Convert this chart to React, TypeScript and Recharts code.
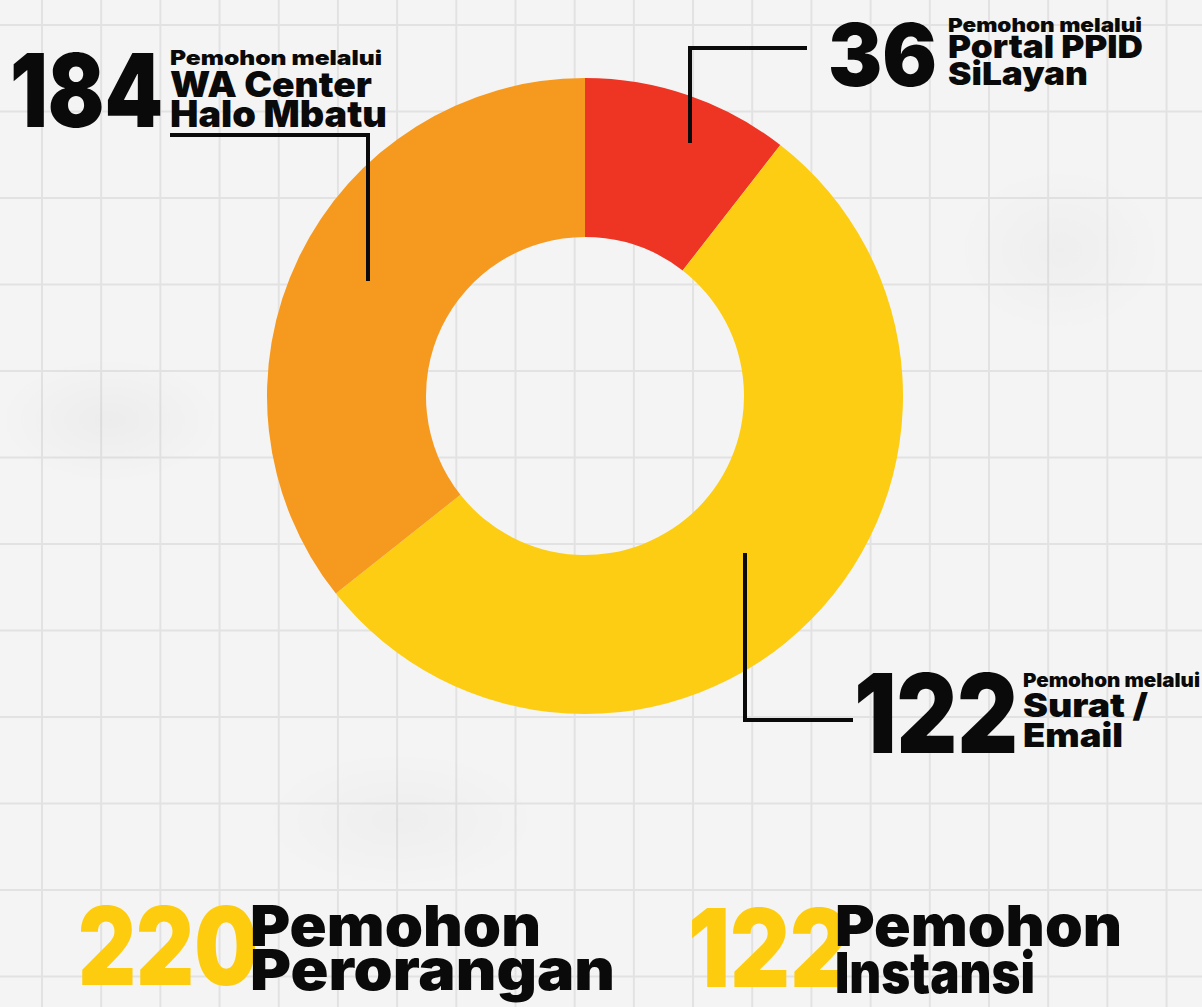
import { PieChart, Pie, Cell } from 'recharts'

// slices in drawing order, clockwise from 12 o'clock
const channels = ['Portal PPID SiLayan', 'Surat / Email', 'WA Center Halo Mbatu']
const sliceValues = [36, 184, 122]
const sliceColors = ['#EE3524', '#FCCD13', '#F6991F']

// callout numbers and captions, as printed on the poster
const calloutNumbers = ['36', '122', '184']
const calloutCaptions = [
  ['Pemohon melalui', 'Portal PPID', 'SiLayan'],
  ['Pemohon melalui', 'Surat /', 'Email'],
  ['Pemohon melalui', 'WA Center', 'Halo Mbatu'],
]

const totalNumbers = ['220', '122']
const totalCaptions = [
  ['Pemohon', 'Perorangan'],
  ['Pemohon', 'Instansi'],
]

const W = 1202
const H = 1007
const FONT = 'Inter, "Open Sans", sans-serif'
const YELLOW = '#FDCC0F'

type Callout = {
  num: { x: number; y: number; size: number; w: number }
  lines: { x: number; y: number; size: number; w: number }[]
  path: string
}

// layout of each callout block (same order as calloutNumbers)
const calloutLayout: Callout[] = [
  {
    num: { x: 828, y: 86, size: 86, w: 109 },
    lines: [
      { x: 948, y: 32, size: 19, w: 194 },
      { x: 948, y: 58, size: 32, w: 195 },
      { x: 948, y: 85, size: 32, w: 140 },
    ],
    path: 'M807,48 L690,48 L690,143',
  },
  {
    num: { x: 854, y: 753, size: 110, w: 164 },
    lines: [
      { x: 1023, y: 687, size: 19, w: 177 },
      { x: 1023, y: 717, size: 33, w: 125 },
      { x: 1023, y: 747, size: 33, w: 100 },
    ],
    path: 'M745,553 L745,720 L853,720',
  },
  {
    num: { x: 10, y: 127, size: 102, w: 153 },
    lines: [
      { x: 170, y: 65, size: 20, w: 212 },
      { x: 170, y: 97, size: 35, w: 202 },
      { x: 170, y: 127, size: 37, w: 217 },
    ],
    path: 'M170,135 L368,135 L368,281',
  },
]

const totalLayout = [
  {
    num: { x: 78, y: 985, size: 108, w: 180 },
    lines: [
      { x: 250, y: 946, size: 57, w: 291 },
      { x: 250, y: 990, size: 57, w: 365 },
    ],
  },
  {
    num: { x: 688, y: 987, size: 108, w: 162 },
    lines: [
      { x: 835, y: 946, size: 57, w: 287 },
      { x: 835, y: 993, size: 57, w: 200 },
    ],
  },
]

function T({
  x,
  y,
  size,
  w,
  fill = '#0a0a0a',
  children,
}: {
  x: number
  y: number
  size: number
  w: number
  fill?: string
  children: string
}) {
  return (
    <text
      x={x}
      y={y}
      fontSize={size}
      fontFamily={FONT}
      fontWeight={900}
      fill={fill}
      textLength={w}
      lengthAdjust="spacingAndGlyphs"
    >
      {children}
    </text>
  )
}

export default function App() {
  const data = channels.map((name, i) => ({ name, value: sliceValues[i] }))

  return (
    <div
      style={{
        position: 'absolute',
        left: 0,
        top: 0,
        width: W,
        height: H,
        overflow: 'hidden',
        backgroundColor: '#f4f4f4',
        backgroundImage:
          'radial-gradient(ellipse 160px 90px at 110px 420px, rgba(0,0,0,0.03), transparent 70%),' +
          'radial-gradient(ellipse 150px 120px at 1060px 250px, rgba(0,0,0,0.025), transparent 70%),' +
          'radial-gradient(ellipse 200px 100px at 400px 820px, rgba(0,0,0,0.025), transparent 70%),' +
          'linear-gradient(to right, #e2e2e2 2px, transparent 2px),' +
          'linear-gradient(to bottom, #e2e2e2 2px, transparent 2px)',
        backgroundSize: '100% 100%, 100% 100%, 100% 100%, 59.2px 86.5px, 59.2px 86.5px',
        backgroundPosition: '0 0, 0 0, 0 0, 41px 0, 0 24px',
      }}
    >
      <PieChart
        width={W}
        height={H}
        margin={{ top: 0, right: 0, bottom: 0, left: 0 }}
        style={{ position: 'absolute', left: 0, top: 0 }}
      >
        <Pie
          data={data}
          dataKey="value"
          nameKey="name"
          cx={585}
          cy={396}
          innerRadius={159}
          outerRadius={318}
          startAngle={90}
          endAngle={-270}
          stroke="none"
          isAnimationActive={false}
        >
          {data.map((d, i) => (
            <Cell key={d.name} fill={sliceColors[i]} />
          ))}
        </Pie>
      </PieChart>

      <svg
        width={W}
        height={H}
        style={{ position: 'absolute', left: 0, top: 0, pointerEvents: 'none' }}
      >
        {calloutLayout.map((c, i) => (
          <g key={i}>
            <path d={c.path} fill="none" stroke="#0a0a0a" strokeWidth={4} />
            <T {...c.num}>{calloutNumbers[i]}</T>
            {c.lines.map((l, j) => (
              <T key={j} {...l}>
                {calloutCaptions[i][j]}
              </T>
            ))}
          </g>
        ))}

        {totalLayout.map((t, i) => (
          <g key={i}>
            <T {...t.num} fill={YELLOW}>
              {totalNumbers[i]}
            </T>
            {t.lines.map((l, j) => (
              <T key={j} {...l}>
                {totalCaptions[i][j]}
              </T>
            ))}
          </g>
        ))}
      </svg>
    </div>
  )
}
